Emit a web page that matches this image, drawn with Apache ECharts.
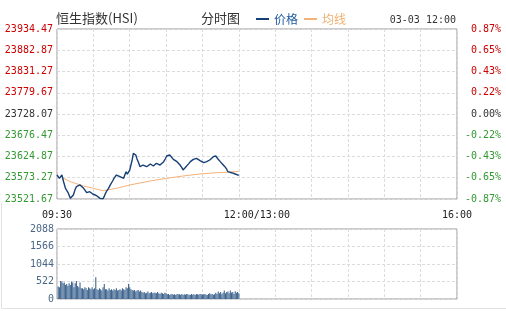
<!DOCTYPE html>
<html>
<head>
<meta charset="utf-8">
<script src="https://cdn.jsdelivr.net/npm/echarts@6/dist/echarts.min.js"></script>
<style>
html,body{margin:0;padding:0;background:#fff;}
#chart{width:506px;height:311px;}
</style>
</head>
<body>
<div id="chart"></div>
<script>
// ---- data ----
var prevClose = 23728.07;
var priceMin = 23521.67;
var priceMax = 23934.47;
var priceStep = 51.6;
var volMax = 2088;
var volStep = 522;
var timeLabels = {0: '09:30', 150: '12:00/13:00', 330: '16:00'};

// minutes since 09:30 (13:00 continues at 150)
var priceTimes = [0, 1, 2, 3, 4, 5.5, 7, 9, 11, 12, 13.5, 15, 16, 17.5, 19, 20.5, 22, 23, 24.5, 26, 27, 28, 29.5, 31, 33, 34, 35.5, 37, 38, 39, 40, 41, 42.5, 44, 45, 46, 47, 48, 49, 50.5, 52, 53.5, 55, 56, 57, 58, 59, 60, 61, 62, 63, 64, 65, 66, 67, 68.5, 70, 71, 72.5, 74, 75.5, 77, 78, 79.5, 81, 82, 83.5, 85, 86.5, 88, 89.5, 90.5, 92, 93, 94.5, 96, 97.5, 99, 100, 101.5, 103, 104, 105.5, 107, 108.5, 110, 111, 112.5, 114, 115, 116.5, 118, 119.5, 121, 122, 123.5, 125, 126, 127.5, 129, 130, 131, 132, 133, 134.5, 136, 137, 138.5, 140, 141, 142.5, 144, 145.5, 147, 148.5, 150];
var priceValues = [23579.9, 23583.0, 23571.9, 23576.5, 23579.9, 23563.0, 23547.6, 23538.0, 23523.3, 23526.0, 23531.4, 23545.0, 23551.6, 23549.0, 23555.7, 23553.0, 23547.6, 23543.5, 23537.0, 23541.5, 23539.4, 23536.0, 23533.8, 23535.0, 23529.0, 23527.0, 23523.3, 23525.0, 23522.4, 23528.0, 23535.5, 23541.0, 23547.6, 23556.0, 23559.8, 23566.0, 23571.9, 23575.5, 23579.9, 23577.0, 23575.9, 23573.0, 23571.9, 23580.5, 23588.0, 23582.0, 23584.0, 23592.0, 23596.2, 23616.4, 23632.6, 23630.0, 23628.5, 23619.0, 23612.3, 23600.1, 23603.0, 23604.2, 23601.0, 23600.1, 23604.5, 23606.7, 23603.5, 23601.8, 23606.0, 23608.3, 23605.0, 23604.2, 23609.0, 23612.3, 23620.0, 23626.1, 23624.0, 23628.5, 23624.0, 23618.0, 23614.5, 23612.3, 23608.0, 23604.2, 23598.0, 23592.1, 23597.0, 23601.8, 23607.0, 23612.3, 23615.5, 23618.0, 23616.5, 23620.5, 23618.0, 23614.7, 23612.0, 23609.8, 23613.0, 23612.3, 23615.0, 23616.4, 23620.0, 23624.4, 23626.1, 23626.1, 23621.5, 23618.0, 23613.0, 23609.8, 23605.0, 23600.1, 23594.0, 23588.0, 23587.0, 23585.5, 23584.0, 23582.4, 23580.5, 23579.2];

var avgTimes = [4, 11, 22, 30, 38, 49, 60, 77, 90.5, 104, 118, 131.5, 143, 150];
var avgValues = [23574.0, 23563.7, 23553.2, 23547.6, 23541.8, 23547.6, 23555.7, 23565.4, 23571.9, 23577.5, 23582.4, 23585.5, 23587.2, 23589.0];

// one value per minute, 09:31 .. 12:00
var volumeValues = [
 370, 350, 540, 520, 470, 490, 420, 450, 390, 470,
 420, 520, 490, 350, 470, 540, 390, 350, 490, 320,
 320, 290, 350, 320, 270, 350, 320, 290, 350, 290,
 320, 650, 290, 270, 320, 290, 250, 350, 450, 290,
 290, 250, 320, 270, 290, 250, 290, 270, 320, 250,
 270, 290, 250, 320, 290, 270, 350, 320, 450, 350,
 290, 270, 250, 270, 220, 250, 270, 220, 250, 210,
 190, 210, 170, 190, 220, 170, 190, 210, 170, 190,
 190, 170, 210, 170, 150, 190, 170, 150, 190, 170,
 140, 150, 120, 140, 150, 130, 140, 120, 150, 140,
 140, 130, 150, 120, 140, 130, 150, 140, 120, 130,
 150, 130, 140, 120, 150, 140, 130, 150, 140, 130,
 140, 150, 130, 120, 150, 170, 140, 150, 130, 140,
 190, 150, 220, 170, 210, 140, 190, 250, 170, 210,
 220, 170, 250, 190, 210, 150, 230, 190, 210, 170
];

// ---- build ----
var priceData = priceTimes.map(function (t, i) { return [t, priceValues[i]]; });
var avgData = avgTimes.map(function (t, i) { return [t, avgValues[i]]; });
var volData = volumeValues.map(function (v, i) { return [i + 1, v]; });

var RED = '#cc0000', GREEN = '#339933', GRAY = '#333333';
var MONO = '"DejaVu Sans Mono", monospace';
var CJK = '"Noto Sans CJK SC", sans-serif';
function upDownColor(v) {
  if (Math.abs(v - prevClose) < 0.01) return GRAY;
  return v > prevClose ? RED : GREEN;
}
var dashed = {show: true, lineStyle: {color: '#dcdcdc', type: [3, 2], width: 1}};

var chart = echarts.init(document.getElementById('chart'), null, {renderer: 'canvas'});
chart.setOption({
  animation: false,
  backgroundColor: '#fff',
  title: {
    text: '恒生指数(HSI)', left: 56, top: 12, padding: 0,
    textStyle: {fontSize: 13, fontWeight: 'normal', color: '#333', fontFamily: CJK}
  },
  legend: {
    left: 256, top: 13, padding: 0, itemGap: 6, itemWidth: 13, itemHeight: 2, icon: 'rect',
    textStyle: {fontSize: 12, fontFamily: CJK},
    data: [
      {name: '价格', textStyle: {color: '#1d5a9e'}},
      {name: '均线', textStyle: {color: '#f0b070'}}
    ]
  },
  graphic: [
    {type: 'text', left: 201, top: 12, style: {text: '分时图', fill: '#333', font: '13px ' + CJK}},
    {type: 'text', right: 50, top: 15, style: {text: '03-03 12:00', fill: '#333', font: '10px ' + MONO}},
    {type: 'line', shape: {x1: 1.5, y1: 203, x2: 1.5, y2: 308.5}, style: {stroke: '#e2e2e2', lineWidth: 1}},
    {type: 'line', shape: {x1: 1.5, y1: 308.5, x2: 506, y2: 308.5}, style: {stroke: '#e2e2e2', lineWidth: 1}}
  ],
  grid: [
    {left: 57, right: 49, top: 29, height: 170, show: true, borderColor: '#999', borderWidth: 1, backgroundColor: 'transparent'},
    {left: 57, right: 49, top: 229, height: 70, show: true, borderColor: '#999', borderWidth: 1, backgroundColor: 'transparent'}
  ],
  xAxis: [
    {
      gridIndex: 0, type: 'value', min: 0, max: 330, interval: 30,
      axisLine: {show: false}, axisTick: {show: false},
      splitLine: dashed,
      axisLabel: {
        show: true, margin: 11, color: '#222', fontSize: 10, fontFamily: MONO,
        showMinLabel: true, showMaxLabel: true,
        formatter: function (v) {
          if (v === 150) return '{s|' + timeLabels[150] + '}';
          return timeLabels[v] || '';
        },
        rich: {s: {padding: [0, 0, 0, 36], fontSize: 10, fontFamily: MONO, color: '#222'}}
      }
    },
    {
      gridIndex: 1, type: 'value', min: 0, max: 330, interval: 30,
      axisLine: {show: false}, axisTick: {show: false}, axisLabel: {show: false},
      splitLine: dashed
    }
  ],
  yAxis: [
    {
      gridIndex: 0, type: 'value', position: 'left', min: priceMin, max: priceMax, interval: priceStep,
      axisLine: {show: false}, axisTick: {show: false},
      splitLine: dashed,
      axisLabel: {
        margin: 4, fontSize: 10, fontFamily: MONO,
        formatter: function (v) { return v.toFixed(2); },
        color: function (v) { return upDownColor(Number(v)); }
      }
    },
    {
      gridIndex: 0, type: 'value', position: 'right', min: priceMin, max: priceMax, interval: priceStep,
      axisLine: {show: false}, axisTick: {show: false}, splitLine: {show: false},
      axisLabel: {
        margin: 44, align: 'right', fontSize: 10, fontFamily: MONO,
        formatter: function (v) { return ((v - prevClose) / prevClose * 100).toFixed(2) + '%'; },
        color: function (v) { return upDownColor(Number(v)); }
      }
    },
    {
      gridIndex: 1, type: 'value', min: 0, max: volMax, interval: volStep,
      axisLine: {show: false}, axisTick: {show: false},
      splitLine: dashed,
      axisLabel: {margin: 3, fontSize: 10, fontFamily: MONO, color: '#4a6785',
        formatter: function (v) { return String(v); }}
    }
  ],
  series: [
    {
      name: '价格', type: 'line', xAxisIndex: 0, yAxisIndex: 0, data: priceData,
      symbol: 'none', color: '#153f75', lineStyle: {color: '#153f75', width: 1.4}, z: 3
    },
    {
      name: '均线', type: 'line', xAxisIndex: 0, yAxisIndex: 0, data: avgData,
      symbol: 'none', smooth: false, color: '#f4b27a', lineStyle: {color: '#f4b27a', width: 1}, z: 2
    },
    {
      name: '成交量', type: 'bar', xAxisIndex: 1, yAxisIndex: 2, data: volData,
      barWidth: 1.1, itemStyle: {color: '#3f6590'}, large: false
    }
  ]
});
</script>
</body>
</html>
